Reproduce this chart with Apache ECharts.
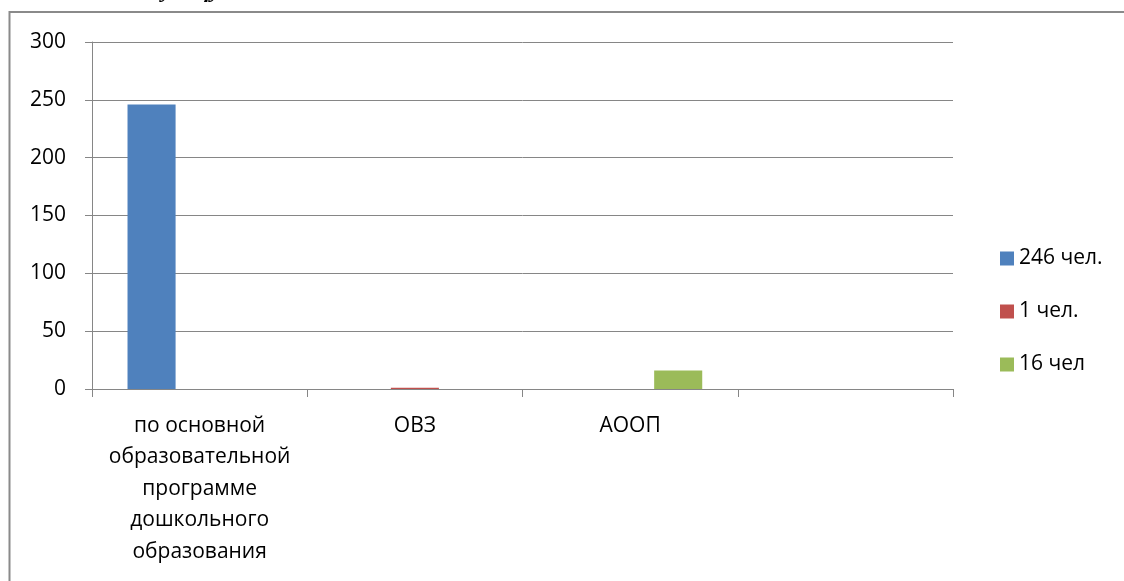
<!DOCTYPE html>
<html>
<head>
<meta charset="utf-8">
<script src="https://cdn.jsdelivr.net/npm/echarts@6/dist/echarts.min.js"></script>
<style>
html,body{margin:0;padding:0;background:#fff;}
#chart{width:1124px;height:581px;}
</style>
</head>
<body>
<div id="chart"></div>
<script>
const categories = ['по основной\nобразовательной\nпрограмме\nдошкольного\nобразования', 'ОВЗ', 'АООП', ''];
const seriesNames = ['246 чел.', '1 чел.', '16 чел'];
const series1 = [246, 0, 0, 0];
const series2 = [0, 1, 0, 0];
const series3 = [0, 0, 16, 0];
const yTicks = [0, 50, 100, 150, 200, 250, 300];
const colors = ['#4F81BD', '#C0504D', '#9BBB59'];

const chart = echarts.init(document.getElementById('chart'));
const font = '"Open Sans", "Noto Sans", sans-serif';
const valuesList = [series1, series2, series3];
chart.setOption({
  animation: false,
  backgroundColor: '#fff',
  color: colors,
  graphic: [
    { type: 'rect', shape: { x: 9.5, y: 12, width: 1300, height: 800 }, style: { fill: 'none', stroke: '#8a8a8a', lineWidth: 2 }, z: -1 },
    { type: 'text', left: 150, top: -21, style: { text: 'дующу', font: 'bold italic 24px "Liberation Serif", serif', fill: '#000' } }
  ],
  grid: { left: 92, right: 171, top: 42, bottom: 192, containLabel: false },
  legend: {
    orient: 'vertical', left: 995, top: 243,
    itemWidth: 14, itemHeight: 14, itemGap: 32,
    icon: 'rect',
    textStyle: { fontFamily: font, fontSize: 21, color: '#000', padding: [0, 0, 0, 0] },
    data: seriesNames
  },
  xAxis: {
    type: 'category', data: categories,
    axisLine: { show: true, lineStyle: { color: '#868686', width: 1 } },
    axisTick: { show: true, length: 8, lineStyle: { color: '#868686' } },
    axisLabel: { fontFamily: font, fontSize: 21, color: '#000', lineHeight: 31.5, margin: 21, interval: 0 }
  },
  yAxis: {
    type: 'value', min: 0, max: 300, interval: 50,
    axisLine: { show: true, lineStyle: { color: '#868686', width: 1 } },
    axisTick: { show: true, inside: false, length: 7, lineStyle: { color: '#868686' } },
    axisLabel: { fontFamily: font, fontSize: 21, color: '#000', margin: 26,
      formatter: v => yTicks.includes(v) ? String(v) : '' },
    splitLine: { show: true, lineStyle: { color: '#868686', width: 1 } }
  },
  series: seriesNames.map((n, i) => ({
    name: n, type: 'bar', data: valuesList[i],
    barGap: '0%', barCategoryGap: '33%',
    itemStyle: { color: colors[i] }
  }))
});
</script>
</body>
</html>
